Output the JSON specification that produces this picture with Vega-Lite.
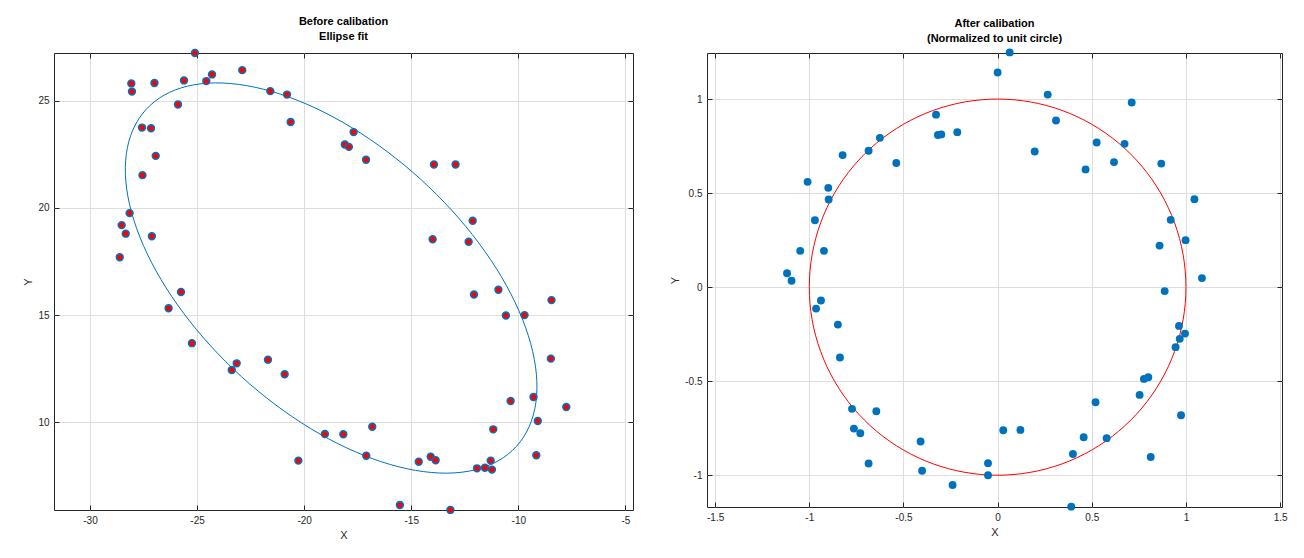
{
  "$schema": "https://vega.github.io/schema/vega-lite/v6.json",
  "background": "white",
  "padding": {"left": 22, "top": 15, "right": 5, "bottom": 5},
  "bounds": "flush",
  "spacing": 74,
  "config": {
    "font": "Liberation Sans",
    "view": {"stroke": "#262626", "strokeWidth": 1},
    "axis": {
      "grid": true, "gridColor": "#dedede", "gridWidth": 1, "gridOpacity": 1,
      "domain": false, "ticks": true, "tickColor": "#262626", "tickSize": -5, "tickWidth": 1,
      "labelFont": "Liberation Sans", "labelFontSize": 10, "labelColor": "#262626", "labelPadding": 10,
      "titleFont": "Liberation Sans", "titleFontSize": 11, "titleFontWeight": "normal", "titleColor": "#262626", "titlePadding": 4,
      "minExtent": 0, "labelExpr": "'' + datum.value"
    },
    "title": {"font": "Liberation Sans", "fontSize": 11, "fontWeight": "bold", "color": "#000000", "lineHeight": 15, "offset": 4, "frame": "group", "anchor": "middle"}
  },
  "datasets": {
    "before": [
      {"x": -25.10, "y": 27.23}, {"x": -28.07, "y": 25.81}, {"x": -28.04, "y": 25.43}, {"x": -26.99, "y": 25.83}, {"x": -25.89, "y": 24.83},
      {"x": -25.61, "y": 25.95}, {"x": -24.57, "y": 25.92}, {"x": -24.30, "y": 26.23}, {"x": -22.89, "y": 26.43}, {"x": -21.58, "y": 25.45},
      {"x": -20.80, "y": 25.29}, {"x": -20.63, "y": 24.01}, {"x": -27.57, "y": 23.75}, {"x": -27.15, "y": 23.72}, {"x": -26.93, "y": 22.43},
      {"x": -27.55, "y": 21.53}, {"x": -28.15, "y": 19.76}, {"x": -28.52, "y": 19.20}, {"x": -28.33, "y": 18.80}, {"x": -27.11, "y": 18.68},
      {"x": -28.61, "y": 17.70}, {"x": -17.69, "y": 23.54}, {"x": -18.10, "y": 22.96}, {"x": -17.91, "y": 22.85}, {"x": -17.11, "y": 22.25},
      {"x": -13.94, "y": 22.03}, {"x": -12.93, "y": 22.03}, {"x": -12.13, "y": 19.40}, {"x": -14.00, "y": 18.54}, {"x": -12.32, "y": 18.42},
      {"x": -25.75, "y": 16.08}, {"x": -26.33, "y": 15.32}, {"x": -25.24, "y": 13.69}, {"x": -23.38, "y": 12.44}, {"x": -23.15, "y": 12.75},
      {"x": -21.69, "y": 12.92}, {"x": -20.91, "y": 12.24}, {"x": -19.03, "y": 9.45}, {"x": -20.27, "y": 8.21}, {"x": -18.17, "y": 9.44},
      {"x": -16.82, "y": 9.79}, {"x": -17.10, "y": 8.44}, {"x": -14.65, "y": 8.16}, {"x": -14.09, "y": 8.39}, {"x": -13.86, "y": 8.23},
      {"x": -11.93, "y": 7.85}, {"x": -11.56, "y": 7.88}, {"x": -11.29, "y": 8.21}, {"x": -11.23, "y": 7.79}, {"x": -11.17, "y": 9.67},
      {"x": -10.36, "y": 10.99}, {"x": -9.29, "y": 11.18}, {"x": -9.09, "y": 10.06}, {"x": -7.76, "y": 10.71}, {"x": -9.16, "y": 8.46},
      {"x": -8.48, "y": 12.97}, {"x": -8.45, "y": 15.70}, {"x": -10.58, "y": 14.98}, {"x": -9.71, "y": 15.00}, {"x": -12.07, "y": 15.96},
      {"x": -10.93, "y": 16.18}, {"x": -15.53, "y": 6.14}, {"x": -13.17, "y": 5.91}
    ],
    "ellipse": [
      {"i": 0, "x": -10.087, "y": 8.877}, {"i": 1, "x": -9.493, "y": 9.796}, {"i": 2, "x": -9.179, "y": 10.927}, {"i": 3, "x": -9.155, "y": 12.233},
      {"i": 4, "x": -9.424, "y": 13.676}, {"i": 5, "x": -9.975, "y": 15.211}, {"i": 6, "x": -10.792, "y": 16.793}, {"i": 7, "x": -11.852, "y": 18.373},
      {"i": 8, "x": -13.121, "y": 19.904}, {"i": 9, "x": -14.559, "y": 21.337}, {"i": 10, "x": -16.125, "y": 22.630}, {"i": 11, "x": -17.770, "y": 23.745},
      {"i": 12, "x": -19.446, "y": 24.647}, {"i": 13, "x": -21.099, "y": 25.307}, {"i": 14, "x": -22.680, "y": 25.706}, {"i": 15, "x": -24.143, "y": 25.835},
      {"i": 16, "x": -25.441, "y": 25.685}, {"i": 17, "x": -26.535, "y": 25.264}, {"i": 18, "x": -27.393, "y": 24.583}, {"i": 19, "x": -27.987, "y": 23.664},
      {"i": 20, "x": -28.301, "y": 22.533}, {"i": 21, "x": -28.325, "y": 21.227}, {"i": 22, "x": -28.056, "y": 19.784}, {"i": 23, "x": -27.505, "y": 18.249},
      {"i": 24, "x": -26.688, "y": 16.667}, {"i": 25, "x": -25.628, "y": 15.087}, {"i": 26, "x": -24.359, "y": 13.556}, {"i": 27, "x": -22.921, "y": 12.123},
      {"i": 28, "x": -21.355, "y": 10.830}, {"i": 29, "x": -19.710, "y": 9.715}, {"i": 30, "x": -18.034, "y": 8.813}, {"i": 31, "x": -16.381, "y": 8.153},
      {"i": 32, "x": -14.800, "y": 7.754}, {"i": 33, "x": -13.337, "y": 7.625}, {"i": 34, "x": -12.039, "y": 7.775}, {"i": 35, "x": -10.945, "y": 8.196}
    ],
    "after": [
      {"x": -0.327, "y": 0.917}, {"x": -0.317, "y": 0.809}, {"x": -0.299, "y": 0.812}, {"x": -0.214, "y": 0.824}, {"x": -0.625, "y": 0.794},
      {"x": -0.685, "y": 0.725}, {"x": -0.538, "y": 0.660}, {"x": -0.823, "y": 0.702}, {"x": -1.009, "y": 0.560}, {"x": -0.899, "y": 0.528},
      {"x": -0.897, "y": 0.466}, {"x": -0.970, "y": 0.356}, {"x": -1.048, "y": 0.193}, {"x": -0.922, "y": 0.193}, {"x": -1.118, "y": 0.074},
      {"x": -1.094, "y": 0.034}, {"x": -0.938, "y": -0.071}, {"x": -0.964, "y": -0.114}, {"x": -0.848, "y": -0.199}, {"x": -0.837, "y": -0.374},
      {"x": -0.773, "y": -0.647}, {"x": -0.644, "y": -0.660}, {"x": -0.763, "y": -0.752}, {"x": -0.729, "y": -0.777}, {"x": -0.685, "y": -0.938},
      {"x": -0.409, "y": -0.821}, {"x": -0.401, "y": -0.976}, {"x": -0.239, "y": -1.052}, {"x": -0.051, "y": -0.936}, {"x": -0.051, "y": -1.000},
      {"x": 0.030, "y": -0.761}, {"x": 0.121, "y": -0.759}, {"x": 0.400, "y": -0.887}, {"x": 0.457, "y": -0.798}, {"x": 0.579, "y": -0.803},
      {"x": 0.520, "y": -0.612}, {"x": 0.813, "y": -0.903}, {"x": 0.391, "y": -1.167}, {"x": 0.754, "y": -0.573}, {"x": 0.777, "y": -0.488},
      {"x": 0.800, "y": -0.479}, {"x": 0.974, "y": -0.681}, {"x": 0.945, "y": -0.319}, {"x": 0.967, "y": -0.275}, {"x": 0.995, "y": -0.247},
      {"x": 0.963, "y": -0.206}, {"x": 0.887, "y": -0.021}, {"x": 1.085, "y": 0.048}, {"x": 0.064, "y": 1.248}, {"x": 0.000, "y": 1.141},
      {"x": 0.266, "y": 1.024}, {"x": 0.310, "y": 0.886}, {"x": 0.197, "y": 0.721}, {"x": 0.467, "y": 0.626}, {"x": 0.526, "y": 0.769},
      {"x": 0.618, "y": 0.665}, {"x": 0.674, "y": 0.762}, {"x": 0.712, "y": 0.982}, {"x": 0.869, "y": 0.657}, {"x": 1.045, "y": 0.468},
      {"x": 0.919, "y": 0.358}, {"x": 0.998, "y": 0.250}, {"x": 0.860, "y": 0.221}
    ],
    "circle": [
      {"i": 0, "x": 1.0, "y": 0.0}, {"i": 1, "x": 0.9848, "y": 0.1736}, {"i": 2, "x": 0.9397, "y": 0.3420}, {"i": 3, "x": 0.8660, "y": 0.5},
      {"i": 4, "x": 0.7660, "y": 0.6428}, {"i": 5, "x": 0.6428, "y": 0.7660}, {"i": 6, "x": 0.5, "y": 0.8660}, {"i": 7, "x": 0.3420, "y": 0.9397},
      {"i": 8, "x": 0.1736, "y": 0.9848}, {"i": 9, "x": 0.0, "y": 1.0}, {"i": 10, "x": -0.1736, "y": 0.9848}, {"i": 11, "x": -0.3420, "y": 0.9397},
      {"i": 12, "x": -0.5, "y": 0.8660}, {"i": 13, "x": -0.6428, "y": 0.7660}, {"i": 14, "x": -0.7660, "y": 0.6428}, {"i": 15, "x": -0.8660, "y": 0.5},
      {"i": 16, "x": -0.9397, "y": 0.3420}, {"i": 17, "x": -0.9848, "y": 0.1736}, {"i": 18, "x": -1.0, "y": 0.0}, {"i": 19, "x": -0.9848, "y": -0.1736},
      {"i": 20, "x": -0.9397, "y": -0.3420}, {"i": 21, "x": -0.8660, "y": -0.5}, {"i": 22, "x": -0.7660, "y": -0.6428}, {"i": 23, "x": -0.6428, "y": -0.7660},
      {"i": 24, "x": -0.5, "y": -0.8660}, {"i": 25, "x": -0.3420, "y": -0.9397}, {"i": 26, "x": -0.1736, "y": -0.9848}, {"i": 27, "x": 0.0, "y": -1.0},
      {"i": 28, "x": 0.1736, "y": -0.9848}, {"i": 29, "x": 0.3420, "y": -0.9397}, {"i": 30, "x": 0.5, "y": -0.8660}, {"i": 31, "x": 0.6428, "y": -0.7660},
      {"i": 32, "x": 0.7660, "y": -0.6428}, {"i": 33, "x": 0.8660, "y": -0.5}, {"i": 34, "x": 0.9397, "y": -0.3420}, {"i": 35, "x": 0.9848, "y": -0.1736}
    ]
  },
  "hconcat": [
    {
      "title": {"text": ["Before calibation", "Ellipse fit"]},
      "width": 579,
      "height": 457,
      "resolve": {"axis": {"x": "independent", "y": "independent"}},
      "layer": [
        {
          "data": {"name": "ellipse"},
          "mark": {"type": "line", "interpolate": "cardinal-closed", "color": "#0072BD", "strokeWidth": 1},
          "encoding": {
            "x": {"field": "x", "type": "quantitative", "scale": {"domain": [-31.68, -4.645], "nice": false, "zero": false},
                  "axis": {"title": "X", "values": [-30, -25, -20, -15, -10, -5], "orient": "bottom"}},
            "y": {"field": "y", "type": "quantitative", "scale": {"domain": [5.906, 27.23], "nice": false, "zero": false},
                  "axis": {"title": "Y", "values": [10, 15, 20, 25], "orient": "left"}},
            "order": {"field": "i", "type": "quantitative"}
          }
        },
        {
          "data": {"name": "before"},
          "mark": {"type": "circle", "fill": "#ff0000", "stroke": "#0072BD", "strokeWidth": 1.6, "size": 46, "opacity": 1},
          "encoding": {
            "x": {"field": "x", "type": "quantitative",
                  "axis": {"orient": "top", "title": null, "labels": false, "grid": false, "values": [-30, -25, -20, -15, -10, -5]}},
            "y": {"field": "y", "type": "quantitative",
                  "axis": {"orient": "right", "title": null, "labels": false, "grid": false, "values": [10, 15, 20, 25]}}
          }
        }
      ]
    },
    {
      "title": {"text": ["After calibation", "(Normalized to unit circle)"]},
      "width": 575,
      "height": 454,
      "resolve": {"axis": {"x": "independent", "y": "independent"}},
      "layer": [
        {
          "data": {"name": "circle"},
          "mark": {"type": "line", "interpolate": "cardinal-closed", "color": "#ff0000", "strokeWidth": 1},
          "encoding": {
            "x": {"field": "x", "type": "quantitative", "scale": {"domain": [-1.543, 1.510], "nice": false, "zero": false},
                  "axis": {"title": "X", "values": [-1.5, -1, -0.5, 0, 0.5, 1, 1.5], "orient": "bottom"}},
            "y": {"field": "y", "type": "quantitative", "scale": {"domain": [-1.169, 1.245], "nice": false, "zero": false},
                  "axis": {"title": "Y", "values": [-1, -0.5, 0, 0.5, 1], "orient": "left"}},
            "order": {"field": "i", "type": "quantitative"}
          }
        },
        {
          "data": {"name": "after"},
          "mark": {"type": "circle", "fill": "#0072BD", "size": 62, "opacity": 1},
          "encoding": {
            "x": {"field": "x", "type": "quantitative",
                  "axis": {"orient": "top", "title": null, "labels": false, "grid": false, "values": [-1.5, -1, -0.5, 0, 0.5, 1, 1.5]}},
            "y": {"field": "y", "type": "quantitative",
                  "axis": {"orient": "right", "title": null, "labels": false, "grid": false, "values": [-1, -0.5, 0, 0.5, 1]}}
          }
        }
      ]
    }
  ]
}
